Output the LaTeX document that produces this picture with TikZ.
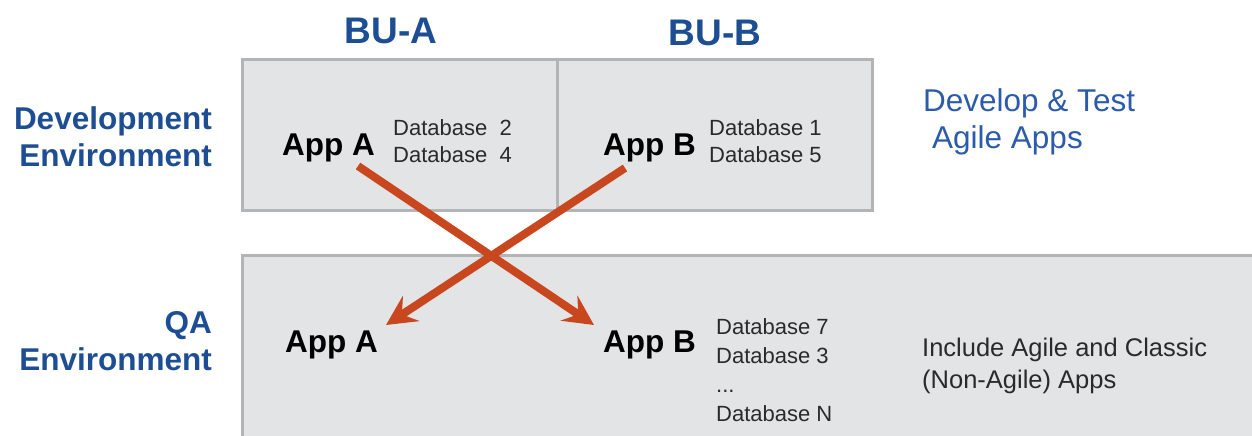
\documentclass[tikz,border=0pt]{standalone}
\usepackage{fontspec}
\setmainfont{Liberation Sans}
\usetikzlibrary{arrows.meta}
\definecolor{hdblue}{HTML}{1D4E94}
\definecolor{ltblue}{HTML}{2B5BAA}
\definecolor{boxfill}{HTML}{E3E4E6}
\definecolor{boxline}{HTML}{B3B4B6}
\definecolor{arrowc}{HTML}{C9471F}
\definecolor{dbtext}{HTML}{2A2A2A}
\begin{document}
\begin{tikzpicture}[x=1pt,y=-1pt,
  envbox/.style={fill=boxfill,draw=boxline,line width=3pt},
  hdr/.style={inner sep=0pt,text=hdblue,font=\bfseries\fontsize{37}{37}\selectfont},
  envlbl/.style={inner sep=0pt,text=hdblue,align=right,font=\bfseries\fontsize{31.5}{37}\selectfont},
  applbl/.style={inner sep=0pt,anchor=base west,font=\bfseries\fontsize{31.5}{31}\selectfont},
  dblbl/.style={inner sep=0pt,anchor=base west,align=left,text=dbtext,font=\fontsize{22}{27}\selectfont},
  dblblb/.style={inner sep=0pt,anchor=base west,align=left,text=dbtext,font=\fontsize{22}{29}\selectfont},
  note/.style={inner sep=0pt,anchor=base west,align=left,text=ltblue,font=\fontsize{31.5}{37}\selectfont},
  note2/.style={inner sep=0pt,anchor=base west,align=left,text=dbtext,font=\fontsize{25.5}{32}\selectfont},
  mig/.style={draw=arrowc,line width=8pt,-{Stealth[length=30pt,width=30pt,inset=11pt]}}]
\useasboundingbox (0,0) rectangle (1252,436);
\clip (0,0) rectangle (1252,436);
% boxes
\path[envbox] (242,60) rectangle (872,210);
\draw[boxline,line width=3pt] (557,60) -- (557,210);
\path[envbox] (242,255) rectangle (1262,450);
% headers
\node[hdr] (bua) at (391,31) {BU-A};
\node[hdr] (bub) at (715,33) {BU-B};
\node[envlbl,anchor=north east] (dev) at (212,106) {Development\\Environment};
\node[envlbl,anchor=north east] (qa) at (212,311) {QA\\Environment};
% top row
\node[applbl] (appA1) at (282,155) {App A};
\node[dblbl,anchor=north west] (db1) at (393,119) {Database\ \ 2\\Database\ \ 4};
\node[applbl] (appB1) at (603,155) {App B};
\node[dblbl,anchor=north west] (db2) at (709,119) {Database 1\\Database 5};
\node[note,anchor=north west] (devnote) at (923,88) {Develop \& Test\\\hspace*{9pt}Agile Apps};
% bottom row
\node[applbl] (appA2) at (285,352) {App A};
\node[applbl] (appB2) at (603,352) {App B};
\node[dblblb,anchor=north west] (db3) at (716,318) {Database 7\\Database 3\\...\\Database N};
\node[note2,anchor=north west] (qanote) at (922,338) {Include Agile and Classic\\(Non-Agile) Apps};
% arrows
\coordinate (a1s) at (358,166);
\coordinate (a1e) at (594,325);
\coordinate (a2s) at (625,168);
\coordinate (a2e) at (386,325);
\draw[mig] (a1s) -- (a1e);
\draw[mig] (a2s) -- (a2e);
\end{tikzpicture}
\end{document}
